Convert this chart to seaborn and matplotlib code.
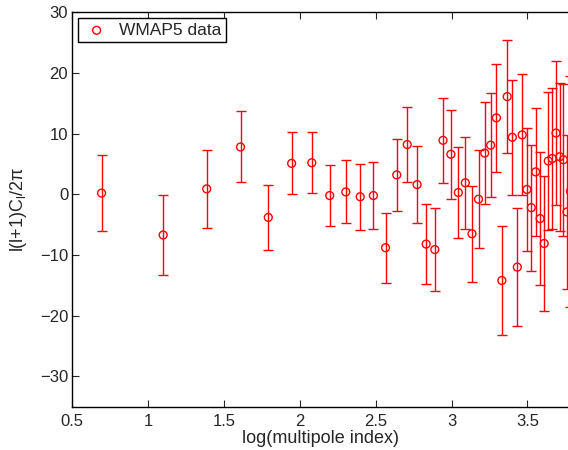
import matplotlib
matplotlib.use("Agg")
import matplotlib.pyplot as plt
import seaborn as sns
import pandas as pd

# log(multipole index)
log_l = [0.693, 1.099, 1.386, 1.609, 1.792, 1.946, 2.079, 2.197, 2.303, 2.398,
         2.485, 2.565, 2.639, 2.708, 2.773, 2.833, 2.890, 2.944, 2.996, 3.045,
         3.091, 3.135, 3.178, 3.219, 3.258, 3.296, 3.332, 3.367, 3.401, 3.434,
         3.466, 3.497, 3.526, 3.555, 3.584, 3.611, 3.638, 3.664, 3.689, 3.714,
         3.738, 3.761, 3.784]
# l(l+1)C_l/2pi
power = [0.2, -6.7, 0.9, 7.8, -3.8, 5.1, 5.2, -0.2, 0.4, -0.4,
         -0.2, -8.8, 3.2, 8.2, 1.6, -8.2, -9.1, 8.9, 6.6, 0.3,
         1.9, -6.5, -0.8, 6.8, 8.1, 12.6, -14.2, 16.1, 9.4, -12.0,
         9.8, 0.8, -2.2, 3.7, -4.0, -8.1, 5.5, 5.9, 10.1, 6.2,
         5.7, -2.9, 0.5]
# symmetric error
error = [6.2, 6.65, 6.4, 5.85, 5.4, 5.1, 5.0, 5.1, 5.2, 5.4,
         5.55, 5.8, 6.0, 6.2, 6.35, 6.6, 6.8, 7.0, 7.3, 7.5,
         7.6, 7.9, 8.1, 8.4, 8.6, 8.85, 9.05, 9.3, 9.45, 9.7,
         9.95, 10.2, 10.4, 10.6, 10.9, 11.2, 11.4, 11.6, 11.8, 12.2,
         12.5, 12.7, 19.0]
x_ticks = [0.5, 1, 1.5, 2, 2.5, 3, 3.5]
x_ticklabels = ["0.5", "1", "1.5", "2", "2.5", "3", "3.5"]
y_ticks = [-30, -20, -10, 0, 10, 20, 30]
y_ticklabels = ["\u221230", "\u221220", "\u221210", "0", "10", "20", "30"]

df = pd.DataFrame({"log_l": log_l, "power": power, "error": error})

sns.set_style("ticks")
plt.rcParams["font.family"] = ["Liberation Sans", "DejaVu Sans"]
plt.rcParams["mathtext.fontset"] = "custom"
plt.rcParams["mathtext.rm"] = "Liberation Sans"
plt.rcParams["mathtext.it"] = "Liberation Sans"

fig = plt.figure(figsize=(5.68, 4.5), dpi=100)
ax = fig.add_axes([0.1273, 0.0962, 0.8727, 0.8765])

ax.errorbar(df["log_l"], df["power"], yerr=df["error"], fmt="none",
            ecolor="#ff0000", elinewidth=1.0, capsize=3.4, capthick=1.0, zorder=2)
sns.scatterplot(data=df, x="log_l", y="power", ax=ax, marker="o", s=32,
                facecolor="none", edgecolor="#ff0000", linewidth=1.0,
                label="WMAP5 data", zorder=3)

ax.set_xlim(0.5, 3.768)
ax.set_ylim(-35, 30)
ax.set_xticks(x_ticks)
ax.set_xticklabels(x_ticklabels)
ax.set_yticks(y_ticks)
ax.set_yticklabels(y_ticklabels)
ax.tick_params(axis="x", direction="in", top=True, bottom=True, length=5,
               labelsize=12, pad=5, width=0.8)
ax.tick_params(axis="y", direction="in", left=True, right=False, length=5,
               labelsize=12, pad=3, width=0.8)
for side in ["left", "bottom", "top"]:
    ax.spines[side].set_linewidth(1.0)
    ax.spines[side].set_color("black")
ax.spines["right"].set_visible(False)

ax.set_xlabel("log(multipole index)", fontsize=13, labelpad=1)
ax.set_ylabel("l(l+1)C$_\\mathrm{l}$/2\u03c0", fontsize=13, labelpad=8)

leg = ax.legend(loc="upper left", fontsize=12.5, frameon=True, fancybox=False,
                edgecolor="black", framealpha=1, borderpad=0.25,
                handletextpad=0.5, borderaxespad=0.35, handlelength=1.6)
leg.get_frame().set_linewidth(1.0)

fig.savefig("out.png", dpi=100)
